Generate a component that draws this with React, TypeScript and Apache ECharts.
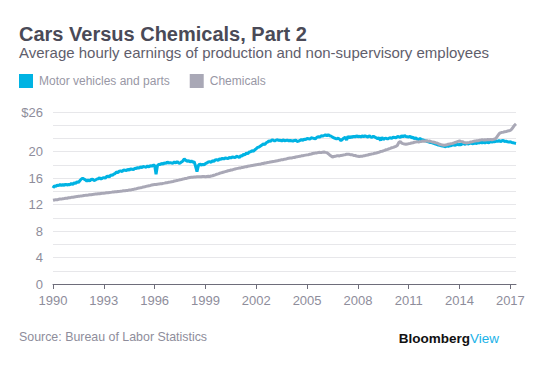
import React, { useEffect, useRef } from "react";
import * as echarts from "echarts";

const START_YEAR = 1990;

// Monthly average hourly earnings, Jan 1990 – May 2017 (USD)
const motorVehicles: number[] = [
  // 1990
  14.5, 14.85, 14.75, 14.95, 14.85, 15.05, 14.85, 15.05, 14.9, 15.1, 14.95, 15.05,
  // 1991
  15.0, 15.2, 15.05, 15.3, 15.2, 15.45, 15.35, 15.6, 15.85, 16.0, 15.85, 15.75,
  // 1992
  15.55, 15.75, 15.55, 15.8, 15.85, 15.65, 15.7, 15.85, 15.9, 16.05, 15.85, 16.0,
  // 1993
  16.1, 16.0, 16.25, 16.3, 16.2, 16.5, 16.4, 16.6, 16.7, 16.95, 16.85, 17.05,
  // 1994
  17.1, 17.0, 17.25, 17.2, 17.15, 17.35, 17.2, 17.4, 17.35, 17.3, 17.5, 17.45,
  // 1995
  17.6, 17.5, 17.7, 17.6, 17.75, 17.7, 17.65, 17.85, 17.7, 17.9, 17.8, 17.95,
  // 1996
  17.95, 16.6, 17.9, 18.1, 18.05, 18.25, 18.1, 18.35, 18.2, 18.45, 18.3, 18.35,
  // 1997
  18.3, 18.25, 18.45, 18.3, 18.5, 18.3, 18.25, 18.45, 18.6, 18.9, 18.7, 18.55,
  // 1998
  18.65, 18.45, 18.6, 18.4, 18.5, 17.8, 17.0, 17.9, 18.15, 17.95, 18.1, 18.0,
  // 1999
  18.2, 18.3, 18.45, 18.5, 18.4, 18.65, 18.55, 18.75, 18.8, 18.7, 18.9, 18.85,
  // 2000
  19.0, 18.9, 19.05, 19.0, 18.95, 19.15, 19.05, 19.2, 19.15, 19.1, 19.3, 19.25,
  // 2001
  19.1, 19.4, 19.35, 19.6, 19.55, 19.8, 19.7, 19.95, 20.0, 20.15, 20.05, 20.3,
  // 2002
  20.45, 20.65, 20.7, 20.85, 21.0, 21.2, 21.05, 21.35, 21.45, 21.65, 21.55, 21.75,
  // 2003
  21.75, 21.6, 21.75, 21.8, 21.7, 21.75, 21.6, 21.8, 21.65, 21.7, 21.75, 21.65,
  // 2004
  21.7, 21.65, 21.6, 21.7, 21.75, 21.55, 21.6, 21.7, 21.85, 21.7, 21.9, 21.85,
  // 2005
  22.0, 21.95, 21.9, 22.1, 22.05, 22.0, 21.95, 22.2, 22.25, 22.2, 22.4, 22.35,
  // 2006
  22.45, 22.55, 22.4, 22.55, 22.4, 22.35, 22.2, 22.1, 22.0, 21.95, 22.05, 21.9,
  // 2007
  21.65, 21.85, 22.05, 22.2, 21.75, 22.35, 22.05, 22.3, 22.15, 22.35, 22.2, 22.4,
  // 2008
  22.25, 22.35, 22.2, 22.4, 22.25, 22.4, 22.3, 22.2, 22.4, 22.25, 22.15, 22.35,
  // 2009
  22.2, 22.1, 21.95, 22.1, 21.7, 22.15, 21.85, 22.0, 22.05, 21.9, 22.05, 22.1,
  // 2010
  22.0, 22.2, 22.15, 22.1, 22.3, 22.25, 22.15, 22.4, 22.25, 22.45, 22.3, 22.25,
  // 2011
  22.2, 22.35, 22.1, 22.2, 21.95, 22.1, 21.9, 21.85, 22.0, 21.8, 21.8, 21.7,
  // 2012
  21.65, 21.55, 21.5, 21.4, 21.4, 21.3, 21.25, 21.15, 21.1, 21.0, 20.95, 20.9,
  // 2013
  20.85, 20.8, 20.75, 20.9, 20.8, 20.95, 20.9, 21.05, 21.0, 20.95, 21.15, 21.05,
  // 2014
  21.1, 21.05, 21.2, 21.2, 21.1, 21.3, 21.15, 21.25, 21.3, 21.2, 21.25, 21.3,
  // 2015
  21.25, 21.4, 21.3, 21.45, 21.3, 21.45, 21.3, 21.45, 21.4, 21.35, 21.55, 21.45,
  // 2016
  21.55, 21.5, 21.65, 21.55, 21.7, 21.5, 21.65, 21.7, 21.55, 21.6, 21.5, 21.45,
  // 2017
  21.5, 21.4, 21.35, 21.3, 21.25,
];

const chemicals: number[] = [
  // 1990
  12.65, 12.7, 12.75, 12.74, 12.8, 12.84, 12.83, 12.9, 12.92, 12.96, 12.97, 13.03,
  // 1991
  13.05, 13.1, 13.1, 13.16, 13.2, 13.21, 13.26, 13.28, 13.32, 13.34, 13.39, 13.4,
  // 1992
  13.43, 13.45, 13.49, 13.5, 13.53, 13.55, 13.59, 13.6, 13.63, 13.65, 13.69, 13.7,
  // 1993
  13.73, 13.75, 13.79, 13.8, 13.83, 13.85, 13.89, 13.9, 13.93, 13.95, 13.99, 14.0,
  // 1994
  14.03, 14.05, 14.09, 14.1, 14.13, 14.15, 14.2, 14.22, 14.27, 14.3, 14.36, 14.4,
  // 1995
  14.46, 14.5, 14.56, 14.6, 14.66, 14.7, 14.76, 14.8, 14.86, 14.9, 14.96, 15.0,
  // 1996
  15.03, 15.05, 15.09, 15.1, 15.14, 15.15, 15.21, 15.25, 15.3, 15.32, 15.37, 15.4,
  // 1997
  15.46, 15.5, 15.56, 15.6, 15.66, 15.7, 15.76, 15.8, 15.86, 15.9, 15.96, 16.0,
  // 1998
  16.06, 16.1, 16.13, 16.15, 16.17, 16.18, 16.21, 16.2, 16.23, 16.2, 16.24, 16.25,
  // 1999
  16.22, 16.26, 16.28, 16.26, 16.32, 16.36, 16.44, 16.5, 16.6, 16.65, 16.74, 16.8,
  // 2000
  16.86, 16.92, 16.99, 17.05, 17.12, 17.15, 17.23, 17.25, 17.32, 17.38, 17.44, 17.48,
  // 2001
  17.52, 17.55, 17.62, 17.65, 17.71, 17.72, 17.8, 17.82, 17.87, 17.9, 17.96, 18.0,
  // 2002
  18.04, 18.05, 18.11, 18.12, 18.2, 18.22, 18.29, 18.3, 18.37, 18.4, 18.44, 18.48,
  // 2003
  18.52, 18.55, 18.6, 18.62, 18.7, 18.72, 18.79, 18.8, 18.87, 18.9, 18.96, 19.0,
  // 2004
  19.04, 19.05, 19.11, 19.12, 19.2, 19.22, 19.29, 19.3, 19.37, 19.4, 19.44, 19.48,
  // 2005
  19.52, 19.55, 19.62, 19.65, 19.72, 19.75, 19.82, 19.82, 19.87, 19.9, 19.86, 19.93,
  // 2006
  19.96, 19.9, 19.86, 19.7, 19.5, 19.35, 19.2, 19.27, 19.3, 19.37, 19.4, 19.36,
  // 2007
  19.44, 19.45, 19.52, 19.55, 19.62, 19.6, 19.6, 19.53, 19.52, 19.44, 19.42, 19.35,
  // 2008
  19.32, 19.27, 19.31, 19.32, 19.37, 19.4, 19.47, 19.5, 19.57, 19.6, 19.67, 19.7,
  // 2009
  19.77, 19.8, 19.87, 19.92, 20.02, 20.05, 20.14, 20.2, 20.3, 20.35, 20.44, 20.5,
  // 2010
  20.6, 20.65, 20.74, 20.8, 20.97, 21.4, 21.55, 21.3, 21.22, 21.15, 21.12, 21.15,
  // 2011
  21.22, 21.25, 21.32, 21.35, 21.42, 21.45, 21.52, 21.45, 21.52, 21.55, 21.62, 21.55,
  // 2012
  21.62, 21.65, 21.57, 21.6, 21.52, 21.45, 21.42, 21.35, 21.32, 21.2, 21.12, 21.05,
  // 2013
  21.02, 20.95, 21.0, 21.05, 21.12, 21.15, 21.22, 21.25, 21.32, 21.4, 21.47, 21.55,
  // 2014
  21.62, 21.55, 21.52, 21.4, 21.37, 21.3, 21.37, 21.4, 21.47, 21.5, 21.57, 21.6,
  // 2015
  21.64, 21.65, 21.72, 21.75, 21.82, 21.75, 21.82, 21.78, 21.84, 21.8, 21.87, 21.8,
  // 2016
  21.87, 21.9, 22.1, 22.4, 22.7, 22.85, 22.92, 22.95, 23.02, 23.05, 23.12, 23.15,
  // 2017
  23.22, 23.4, 23.7, 24.0, 24.2,
];

const seriesNames = ["Motor vehicles and parts", "Chemicals"];
const seriesColors = ["#00b3e3", "#a9a8b6"];

const FONT = "'Liberation Sans', Arial, sans-serif";

const toPairs = (vals: number[]) =>
  vals.map((v, i) => [START_YEAR + i / 12, v]);

export default function App() {
  const ref = useRef<HTMLDivElement>(null);

  useEffect(() => {
    if (!ref.current) return;
    const chart = echarts.init(ref.current, null, { renderer: "svg" });
    const lastX = START_YEAR + (Math.max(motorVehicles.length, chemicals.length) - 1) / 12;
    chart.setOption({
      animation: false,
      backgroundColor: "#ffffff",
      textStyle: { fontFamily: FONT },
      title: [
        {
          text: "Cars Versus Chemicals, Part 2",
          left: 19,
          top: 24,
          padding: 0,
          textStyle: { fontFamily: FONT, fontSize: 20, fontWeight: "bold", color: "#4a4a57" },
        },
        {
          text: "Average hourly earnings of production and non-supervisory employees",
          left: 19,
          top: 45,
          padding: 0,
          textStyle: { fontFamily: FONT, fontSize: 15, fontWeight: "normal", color: "#5f5e6c" },
        },
        {
          text: "Source: Bureau of Labor Statistics",
          left: 19,
          top: 331,
          padding: 0,
          textStyle: { fontFamily: FONT, fontSize: 12.4, fontWeight: "normal", color: "#8e8d9b" },
        },
        {
          text: "{a|Bloomberg}{b|View}",
          right: 58,
          top: 331,
          padding: 0,
          textStyle: {
            rich: {
              a: { fontFamily: FONT, fontSize: 13.5, fontWeight: "bold", color: "#111111" },
              b: { fontFamily: FONT, fontSize: 13.5, fontWeight: "normal", color: "#1ab2e8" },
            },
          },
        },
      ],
      legend: {
        left: 19,
        top: 74,
        padding: 0,
        icon: "rect",
        itemWidth: 14,
        itemHeight: 14,
        itemGap: 20,
        data: seriesNames,
        textStyle: { fontFamily: FONT, fontSize: 12, color: "#9897a5", padding: [0, 0, 0, 1] },
      },
      grid: { left: 53, right: 41, top: 112, bottom: 82 },
      xAxis: {
        type: "value",
        min: START_YEAR,
        max: lastX,
        interval: 3,
        axisLine: { lineStyle: { color: "#6e6d7a", width: 1 } },
        axisTick: { length: 5, lineStyle: { color: "#6e6d7a" } },
        axisLabel: {
          color: "#8e8d9b",
          fontSize: 13,
          margin: 10,
          fontFamily: FONT,
          showMaxLabel: false,
          formatter: (v: number) =>
            Number.isInteger(v) && (v - START_YEAR) % 3 === 0 ? String(v) : "",
        },
        splitLine: { show: false },
      },
      yAxis: {
        type: "value",
        min: 0,
        max: 26,
        interval: 2,
        axisLine: { show: false },
        axisTick: { show: false },
        axisLabel: {
          color: "#8e8d9b",
          fontSize: 13,
          margin: 10,
          fontFamily: FONT,
          formatter: (v: number) =>
            v === 26 ? "$26" : v % 4 === 0 && v <= 20 ? String(v) : "",
        },
        splitLine: { lineStyle: { color: "#e7e7ea", width: 1 } },
      },
      series: [
        {
          name: seriesNames[0],
          type: "line",
          data: toPairs(motorVehicles),
          showSymbol: false,
          color: seriesColors[0],
          lineStyle: { width: 3, color: seriesColors[0] },
          z: 2,
        },
        {
          name: seriesNames[1],
          type: "line",
          data: toPairs(chemicals),
          showSymbol: false,
          color: seriesColors[1],
          lineStyle: { width: 3, color: seriesColors[1] },
          z: 3,
        },
      ],
    });
    return () => chart.dispose();
  }, []);

  return (
    <div
      ref={ref}
      style={{ position: "absolute", left: 0, top: 0, width: 557, height: 366 }}
    />
  );
}
